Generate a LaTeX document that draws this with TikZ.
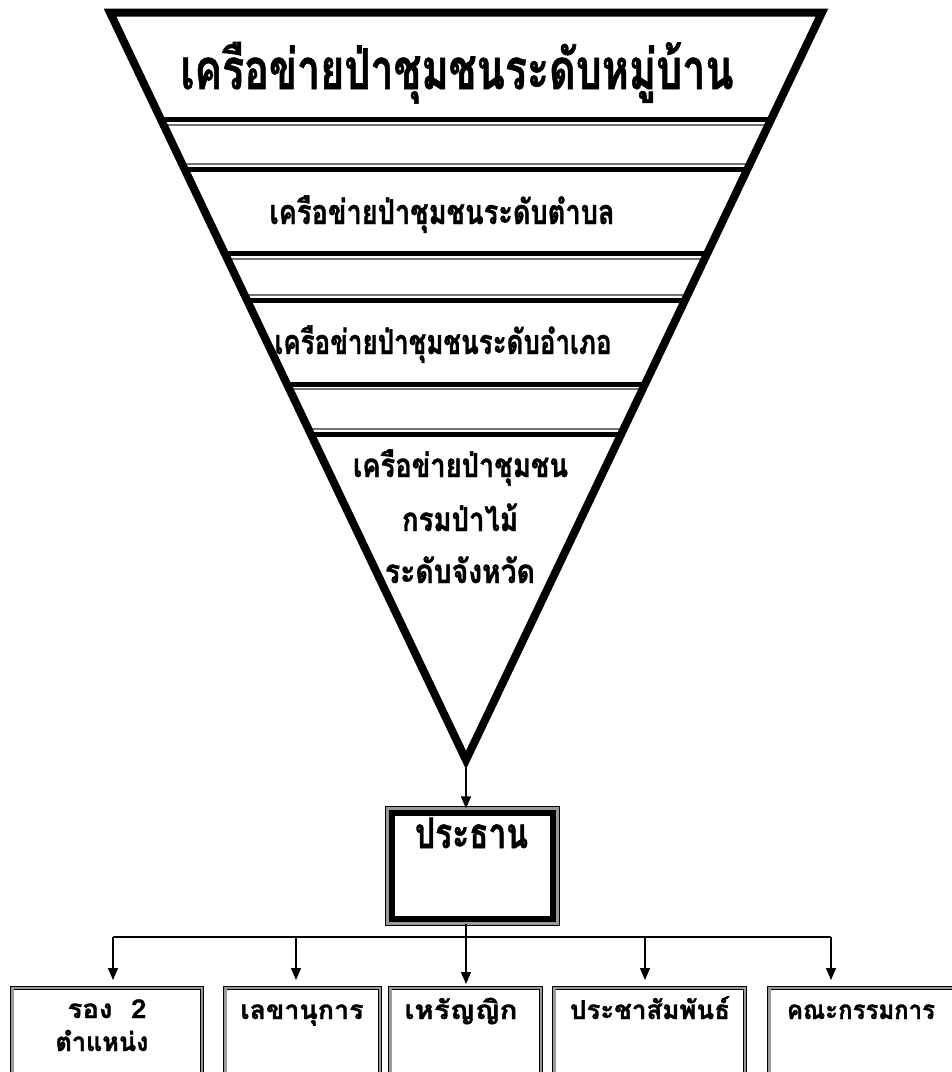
\documentclass[tikz,border=0pt]{standalone}
\usepackage{fontspec}
\usetikzlibrary{arrows.meta}
\newfontfamily\thai[Script=Thai,BoldFeatures={FakeBold=1.2}]{Loma}
\newcommand\TT[3]{\resizebox{#1pt}{\height}{\fontsize{#2}{#2}\selectfont\thai\bfseries #3}}
\begin{document}
\begin{tikzpicture}[x=1pt,y=-1pt,
  tri/.style={line width=8pt, line join=miter},
  sepb/.style={line width=5pt},
  sepg/.style={black!55, line width=2.5pt},
  arr/.style={line width=1.3pt, -{Triangle[width=10pt,length=12pt]}},
  busline/.style={line width=1.3pt},
  txt/.style={inner sep=0pt, anchor=base},
  subbox/.style={draw=black, line width=0.9pt, double=black!40, double distance=2.6pt,
    inner sep=0pt, outer sep=0pt, minimum height=112pt},
  presbox/.style={draw=black, line width=0.9pt, double=black!40, double distance=3pt,
    inner sep=0pt, outer sep=0pt, minimum width=170.2pt, minimum height=115.2pt}]
\useasboundingbox (0,0) rectangle (952,1072);
\clip (0,0) rectangle (952,1072);
\fill[white] (0,0) rectangle (952,1072);
% triangle
\coordinate (tl) at (110,12.5);
\coordinate (tr) at (822,12.5);
\coordinate (ap) at (466,760);
\coordinate (apexout) at (466,768);
\begin{scope}
\clip (tl) -- (tr) -- (ap) -- cycle;
\foreach \y in {119,169,253,300,384,434} \draw[sepb] (0,\y) -- (952,\y);
\foreach \y in {125,164,259,295,389,429} \draw[sepg] (0,\y) -- (952,\y);
\end{scope}
\draw[tri] (tl) -- (tr) -- (ap) -- cycle;
% triangle texts
\node[txt] (t1) at (457,89) {\TT{553}{56}{เครือข่ายป่าชุมชนระดับหมู่บ้าน}};
\node[txt] (t2) at (442,224) {\TT{345}{34}{เครือข่ายป่าชุมชนระดับตำบล}};
\node[txt] (t3) at (443,354) {\TT{337}{34}{เครือข่ายป่าชุมชนระดับอำเภอ}};
\node[txt] (t4a) at (460.5,477) {\TT{215}{33}{เครือข่ายป่าชุมชน}};
\node[txt] (t4b) at (460,531) {\TT{116}{33}{กรมป่าไม้}};
\node[txt] (t4c) at (460,583) {\TT{150}{33}{ระดับจังหวัด}};
% president box
\node[presbox] (pres) at (472.5,866) {};
\draw[line width=5pt] ([shift={(4.9,4.9)}]pres.north west) rectangle ([shift={(-4.9,-4.9)}]pres.south east);
\node[txt] (prest) at (471.5,848) {\TT{113}{42}{ประธาน}};
\draw[arr] (apexout) -- (apexout |- pres.north);
% sub boxes
\node[subbox, minimum width=189.6pt] (b1) at (107,1044) {};
\node[subbox, minimum width=154.6pt] (b2) at (302.5,1044) {};
\node[subbox, minimum width=150.6pt] (b3) at (465.5,1044) {};
\node[subbox, minimum width=190.6pt] (b4) at (649.5,1044) {};
\node[subbox, minimum width=188.8pt] (b5) at (863.6,1044) {};
\node[txt] (l1a) at (107,1018) {\TT{79}{26}{รอง~~2}};
\node[txt] (l1b) at (102,1051) {\TT{93}{26}{ตำแหน่ง}};
\node[txt] (l2) at (302,1019) {\TT{123}{26}{เลขานุการ}};
\node[txt] (l3) at (461,1019) {\TT{113}{26}{เหรัญญิก}};
\node[txt] (l4) at (650,1019) {\TT{160}{26}{ประชาสัมพันธ์}};
\node[txt] (l5) at (861,1019) {\TT{148}{26}{คณะกรรมการ}};
% bus
\coordinate (a1) at (113,937);
\coordinate (a2) at (296,937);
\coordinate (bus) at (466,937);
\coordinate (a4) at (645,937);
\coordinate (a5) at (831,937);
\draw[busline] (a1) -- (a5);
\draw[arr, shorten >=4pt] (bus |- pres.south) -- (bus |- b3.north);
\foreach \a/\b in {a1/b1,a2/b2,a4/b4,a5/b5}
  \draw[arr, shorten >=8pt] (\a) -- (\a |- \b.north);
\end{tikzpicture}
\end{document}
